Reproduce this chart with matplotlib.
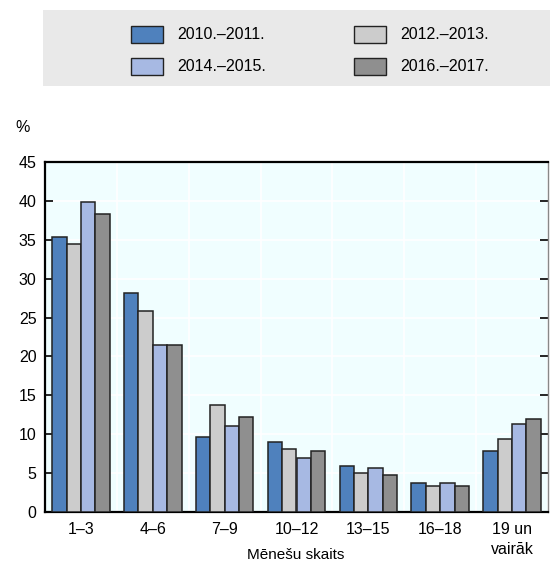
import matplotlib
matplotlib.use("Agg")
import matplotlib.pyplot as plt
from matplotlib.patches import Rectangle
import numpy as np

plt.rcParams['font.family'] = ['Liberation Sans', 'DejaVu Sans']

categories = ["1–3", "4–6", "7–9", "10–12", "13–15", "16–18", "19 un\nvairāk"]
series_labels = ["2010.–2011.", "2012.–2013.", "2014.–2015.", "2016.–2017."]
s2010 = [35.4, 28.2, 9.7, 9.0, 5.9, 3.7, 7.9]
s2012 = [34.4, 25.8, 13.8, 8.1, 5.0, 3.3, 9.4]
s2014 = [39.8, 21.5, 11.1, 6.9, 5.6, 3.7, 11.3]
s2016 = [38.3, 21.5, 12.2, 7.8, 4.8, 3.3, 12.0]
series = [s2010, s2012, s2014, s2016]
colors = ["#4F81BD", "#CCCCCC", "#A7B9E3", "#8F8F8F"]
yticks = [0, 5, 10, 15, 20, 25, 30, 35, 40, 45]

FS = 11.5
W, H = 550, 564
fig = plt.figure(figsize=(W/100, H/100), dpi=100)
ax = fig.add_axes([45/W, 1-512/H, (548-45)/W, (512-162)/H])
ax.set_facecolor("#F0FEFF")

x = np.arange(len(categories))
bw = 0.2
for i, (vals, c) in enumerate(zip(series, colors)):
    ax.bar(x + (i-1.5)*bw, vals, width=bw, color=c, edgecolor="#222222", linewidth=1.1, zorder=3)

ax.set_xlim(-0.5, len(categories)-0.5)
ax.set_ylim(0, 45)
ax.set_yticks(yticks)
ax.set_xticks(x)
ax.set_xticklabels(categories, fontsize=FS, linespacing=1.45)
ax.tick_params(axis='y', labelsize=FS, direction='in', length=6, width=1.2, right=True, left=True, pad=6)
ax.tick_params(axis='x', length=0, pad=7)
ax.set_xticks(np.arange(len(categories)+1)-0.5, minor=True)
ax.tick_params(axis='x', which='minor', length=0)
ax.grid(True, axis='y', color='white', linewidth=1.2, zorder=0)
ax.grid(True, axis='x', which='minor', color='white', linewidth=1.2, zorder=0)
ax.grid(False, axis='x', which='major')
for s in ['left', 'bottom', 'top']:
    ax.spines[s].set_linewidth(1.6)
    ax.spines[s].set_color('black')
ax.spines['right'].set_linewidth(1.0)
ax.spines['right'].set_color('#888888')

fig.text(296/W, 1-555/H, "Mēnešu skaits", fontsize=FS-0.5, ha='center', va='center')
fig.text(15/W, 1-128/H, "%", fontsize=FS, ha='left', va='center')

# legend
fig.add_artist(Rectangle((43/W, 1-86/H), (550-43)/W, 76/H, transform=fig.transFigure,
                         facecolor="#E9E9E9", edgecolor='none'))
pos = [(131, 34.5), (354, 34.5), (131, 66.5), (354, 66.5)]
for (px, py), i in zip(pos, range(4)):
    fig.add_artist(Rectangle((px/W, 1-(py+8.5)/H), 32/W, 17/H, transform=fig.transFigure,
                             facecolor=colors[i], edgecolor="#222222", linewidth=1.0))
    fig.text((px+46)/W, 1-py/H, series_labels[i], fontsize=FS, ha='left', va='center')

fig.savefig("out.png", dpi=100)
